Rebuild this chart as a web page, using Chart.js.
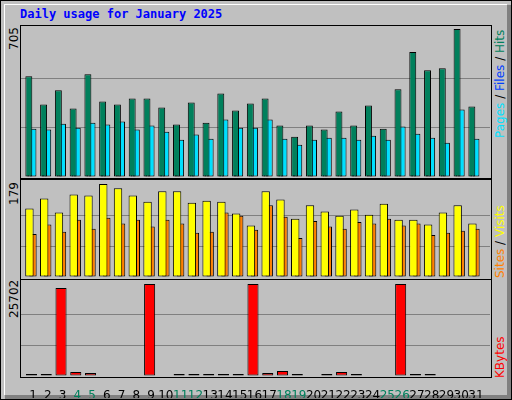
<!DOCTYPE html>
<html>
<head>
<meta charset="utf-8">
<script src="https://cdn.jsdelivr.net/npm/chart.js@4"></script>
<style>
body { margin:0; width:512px; height:400px; background:#c0c0c0; position:relative; overflow:hidden; font-family:"DejaVu Sans", sans-serif; }
.abs { position:absolute; }
.frame { position:absolute; border:1px solid #000; box-sizing:border-box; }
.vlab { position:absolute; font-size:12px; white-space:nowrap; transform-origin:left top; transform:rotate(-90deg); }
</style>
</head>
<body>
<div class="abs" style="left:0;top:0;width:512px;height:400px;box-sizing:border-box;border:1px solid #000;"></div>
<div class="abs" style="left:4px;top:4px;width:502px;height:390px;border-top:1px solid #fff;border-left:1px solid #fff;"></div>
<div class="abs" style="left:507px;top:5px;width:4px;height:394px;background:#808080;"></div>
<div class="abs" style="left:5px;top:395px;width:506px;height:4px;background:#808080;"></div>
<div class="abs" style="left:20px;top:7px;font:bold 12px 'DejaVu Sans Mono',monospace;color:#0000ff;">Daily usage for January 2025</div>

<div class="frame" style="left:20px;top:25px;width:472px;height:154px;"></div>
<div class="frame" style="left:20px;top:179px;width:472px;height:101px;"></div>
<div class="frame" style="left:20px;top:279px;width:472px;height:99px;"></div>

<div class="vlab" style="left:7px;top:50px;">705</div>
<div class="vlab" style="left:7px;top:205px;">179</div>
<div class="vlab" style="left:7px;top:318px;">25702</div>

<div class="vlab" style="left:493px;top:138px;"><span style="color:#00e0ff">Pages</span> / <span style="color:#0040ff">Files</span> / <span style="color:#00805c">Hits</span></div>
<div class="vlab" style="left:493px;top:278px;"><span style="color:#ff8000">Sites</span> / <span style="color:#ffff00">Visits</span></div>
<div class="vlab" style="left:493px;top:378px;"><span style="color:#ff0000">KBytes</span></div>

<canvas id="c1" class="abs" style="left:21px;top:26px;" width="469" height="151"></canvas>
<canvas id="c2" class="abs" style="left:21px;top:181px;" width="469" height="96"></canvas>
<canvas id="c3" class="abs" style="left:21px;top:281px;" width="469" height="117"></canvas>

<script>
var days = [];
for (var i = 1; i <= 31; ++i) days.push(i);
var weekendDays = [4, 5, 11, 12, 18, 19, 25, 26];

var hits   = [480,345,413,326,490,360,345,374,374,331,250,355,259,398,317,350,374,245,192,245,226,312,245,341,230,418,595,509,518,705,336];
var files  = [230,226,254,235,259,250,264,226,245,216,178,202,182,274,235,235,274,182,154,178,187,187,178,197,178,240,206,187,163,322,182];
var pages  = [130,134,168,106,134,130,130,125,221,158,125,106,115,125,101,202,168,130,86,115,110,106,120,120,120,211,91,115,110,120,134];
var visits = [132,151,124,159,157,179,171,157,145,165,165,143,147,145,122,99,165,149,112,138,126,118,130,120,141,110,110,101,124,138,103];
var sites  = [83,101,87,110,93,114,103,110,97,110,103,85,87,124,118,91,138,116,75,108,97,93,106,103,112,99,103,81,85,89,93];
var kbytes = [560,560,24570,1130,850,120,120,120,25702,120,560,560,560,560,560,25702,850,1410,560,120,560,1130,560,120,120,25702,560,560,120,120,120];

var maxHits = 705;
var maxVisits = 179;
var maxKbytes = 25702;

var xMin = 0.19;
var xMax = 31.95;

function makeChart(id, series, yMax, showDays) {
    var datasets = [];
    var scales = {};
    for (var i = 0; i < series.length; ++i) {
        var s = series[i];
        var axisId = 'x' + i;
        datasets.push({
            data: days.map(function (d, k) { return { x: d + s.shift, y: s.values[k] }; }),
            backgroundColor: s.color,
            borderColor: '#000',
            borderWidth: 1,
            borderSkipped: false,
            barPercentage: s.width,
            categoryPercentage: 1,
            grouped: false,
            xAxisID: axisId
        });
        scales[axisId] = { type: 'linear', min: xMin, max: xMax, offset: false, display: false };
    }
    scales.y = {
        min: 0, max: yMax,
        afterBuildTicks: function (sc) {
            sc.ticks = [0, yMax / 3, yMax * 2 / 3, yMax].map(function (v) { return { value: v }; });
        },
        afterFit: function (sc) { sc.width = 0; },
        ticks: { display: false },
        border: { display: false },
        grid: {
            drawTicks: false,
            color: function (ctx) {
                return (ctx.index == 1 || ctx.index == 2) ? '#808080' : 'rgba(0,0,0,0)';
            }
        }
    };
    if (showDays) {
        scales.days = {
            type: 'linear', position: 'bottom', min: xMin, max: xMax, offset: false,
            afterBuildTicks: function (sc) {
                sc.ticks = days.map(function (v) { return { value: v }; });
            },
            afterFit: function (sc) { sc.height = 22; },
            grid: { display: false },
            border: { display: false },
            ticks: {
                maxRotation: 0,
                autoSkip: false,
                padding: 5,
                font: { family: 'DejaVu Sans', size: 12 },
                color: function (ctx) {
                    return weekendDays.indexOf(ctx.tick.value) >= 0 ? '#00805c' : '#000';
                },
                callback: function (v) { return String(v); }
            }
        };
    }
    return new Chart(document.getElementById(id), {
        type: 'bar',
        data: { datasets: datasets },
        options: {
            responsive: false,
            animation: false,
            devicePixelRatio: 1,
            layout: { padding: { top: 3, left: 0, right: 0, bottom: 0 } },
            plugins: { legend: { display: false }, tooltip: { enabled: false } },
            scales: scales
        }
    });
}

makeChart('c1', [
    { values: hits,  color: '#00805c', shift: -0.28, width: 0.47 },
    { values: pages, color: '#0040ff', shift: -0.32, width: 0.14 },
    { values: files, color: '#00e0ff', shift: 0,     width: 0.47 }
], maxHits, false);

makeChart('c2', [
    { values: visits, color: '#ffff00', shift: -0.24, width: 0.57 },
    { values: sites,  color: '#ff8000', shift: 0,     width: 0.5 }
], maxVisits, false);

makeChart('c3', [
    { values: kbytes, color: '#ff0000', shift: -0.1, width: 0.75 }
], maxKbytes, true);
</script>
</body>
</html>
